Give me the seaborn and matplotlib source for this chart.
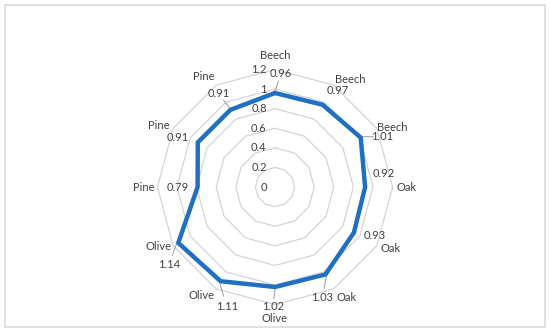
import numpy as np
import pandas as pd
import matplotlib
matplotlib.use('Agg')
import matplotlib.pyplot as plt
import seaborn as sns
from matplotlib.patches import Rectangle

# 数据: 顺时针从正上方开始
categories = ['Beech', 'Beech', 'Beech', 'Oak', 'Oak', 'Oak',
              'Olive', 'Olive', 'Olive', 'Pine', 'Pine', 'Pine']
values = [0.96, 0.97, 1.01, 0.92, 0.93, 1.03,
          1.02, 1.11, 1.14, 0.79, 0.91, 0.91]
ring_levels = [0.2, 0.4, 0.6, 0.8, 1.0, 1.2]
tick_labels = ['0', '0.2', '0.4', '0.6', '0.8', '1', '1.2']

# 标签微调(度)
val_nudge = [3, 3, 5, -7, -4, 7, 1, -8, -6, 0, -3, -1]
cat_nudge = [0, 5, 3, 0, -2, -3, 0, 4, 3, 0, -2, -3]
leader = [0, 2, 5, 6, 7, 8, 11]

sns.set_theme(style='white')
plt.rcParams['font.family'] = ['Lato', 'DejaVu Sans']

n = len(categories)
theta = np.linspace(0, 2 * np.pi, n, endpoint=False)
df = pd.DataFrame({'theta': np.append(theta, 2 * np.pi),
                   'value': np.append(values, values[0])})

fig = plt.figure(figsize=(5.5, 3.34), dpi=100)
fig.patches.append(Rectangle((0.009, 0.021), 0.982, 0.964, transform=fig.transFigure,
                             fill=False, edgecolor='#dcdcdc', linewidth=1.2))
ax = fig.add_axes([0.2862, 0.088, 0.4276, 0.704], polar=True)
ax.set_theta_zero_location('N')
ax.set_theta_direction(-1)
ax.set_ylim(0, 1.2)
ax.set_xticks([])
ax.set_yticks([])
ax.grid(False)
ax.spines['polar'].set_visible(False)
ax.patch.set_alpha(0)

# 多边形网格
ring_theta = np.append(theta, theta[0])
for r in ring_levels:
    ax.plot(ring_theta, [r] * (n + 1), color='#d4d4d4', linewidth=0.9, zorder=1, clip_on=False)

sns.lineplot(data=df, x='theta', y='value', sort=False, estimator=None, ax=ax,
             color='#1f6fc2', linewidth=3.2, zorder=3)
ax.set_xlabel('')
ax.set_ylabel('')

fs = 8
# 刻度
for r, t in zip([0] + ring_levels, tick_labels):
    ax.annotate(t, xy=(0, r), xytext=(-6, 0), textcoords='offset points',
                ha='right', va='center', fontsize=fs, color='#404040')

# 数据标签和类别标签
for i in range(n):
    th_v = theta[i] + np.deg2rad(val_nudge[i])
    ax.text(th_v, values[i] + 0.2, f'{values[i]:g}', ha='center', va='center',
            fontsize=fs, color='#404040', clip_on=False)
    if i in leader:
        ax.plot([theta[i], theta[i] + np.deg2rad(val_nudge[i]) * 0.6],
                [values[i] + 0.02, values[i] + 0.12], color='#a6a6a6',
                linewidth=0.8, clip_on=False, zorder=2)
    ax.text(theta[i] + np.deg2rad(cat_nudge[i]), 1.34, categories[i], ha='center',
            va='center', fontsize=fs, color='#404040', clip_on=False)

fig.savefig('out.png', dpi=100)
